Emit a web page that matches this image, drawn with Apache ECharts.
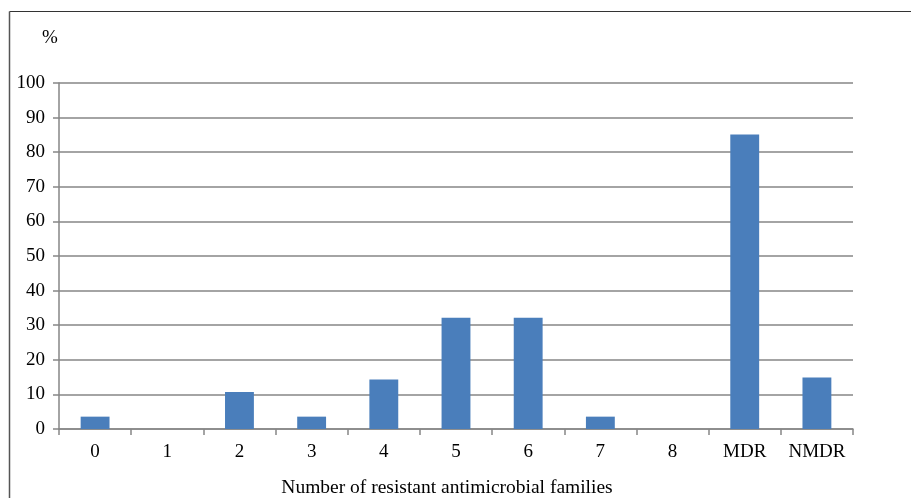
<!DOCTYPE html>
<html>
<head>
<meta charset="utf-8">
<script src="https://cdn.jsdelivr.net/npm/echarts@6/dist/echarts.min.js"></script>
<style>
html,body{margin:0;padding:0;background:#fff;}
#chart{width:911px;height:498px;}
</style>
</head>
<body>
<div id="chart"></div>
<script>
const categories = ['0','1','2','3','4','5','6','7','8','MDR','NMDR'];
const percentValues = [3.57, 0, 10.71, 3.57, 14.29, 32.14, 32.14, 3.57, 0, 85.1, 14.9];
const yTicks = [0,10,20,30,40,50,60,70,80,90,100];

const chart = echarts.init(document.getElementById('chart'), null, {renderer:'canvas'});
const font = '"Liberation Serif", "Times New Roman", serif';
chart.setOption({
  animation:false,
  backgroundColor:'#fff',
  graphic:[
    {type:'line', shape:{x1:9.5,y1:11.5,x2:911,y2:11.5}, style:{stroke:'#333',lineWidth:1.2}},
    {type:'line', shape:{x1:9.5,y1:11.5,x2:9.5,y2:498}, style:{stroke:'#555',lineWidth:1.5}},
    {type:'text', left:42, top:29, style:{text:'%', font:'19px ' + font, fill:'#000'}}
  ],
  grid:{left:59, right:58, top:83, bottom:69, containLabel:false, outerBoundsMode:'none'},
  xAxis:{
    type:'category',
    data:categories,
    boundaryGap:true,
    name:'Number of resistant antimicrobial families',
    nameLocation:'middle',
    nameGap:49,
    nameTextStyle:{fontFamily:font, fontSize:19.5, color:'#000', padding:[0,18,0,0]},
    axisLine:{lineStyle:{color:'#868686', width:1.5}},
    axisTick:{show:true, alignWithLabel:false, length:6, lineStyle:{color:'#868686', width:1.5}},
    axisLabel:{fontFamily:font, fontSize:19, color:'#000', margin:14, interval:0}
  },
  yAxis:{
    type:'value',
    min:0, max:100, interval:10,
    axisLine:{show:true, lineStyle:{color:'#868686', width:1.5}},
    axisTick:{show:true, inside:false, length:6, lineStyle:{color:'#868686', width:1.5}},
    axisLabel:{fontFamily:font, fontSize:19, color:'#000', margin:14,
      formatter:v=> yTicks.includes(v) ? String(v) : ''},
    splitLine:{show:true, lineStyle:{color:'#868686', width:1.5}}
  },
  series:[{
    type:'bar',
    data:percentValues,
    barWidth:'40%',
    itemStyle:{color:'#4a7ebb'}
  }]
});
</script>
</body>
</html>
